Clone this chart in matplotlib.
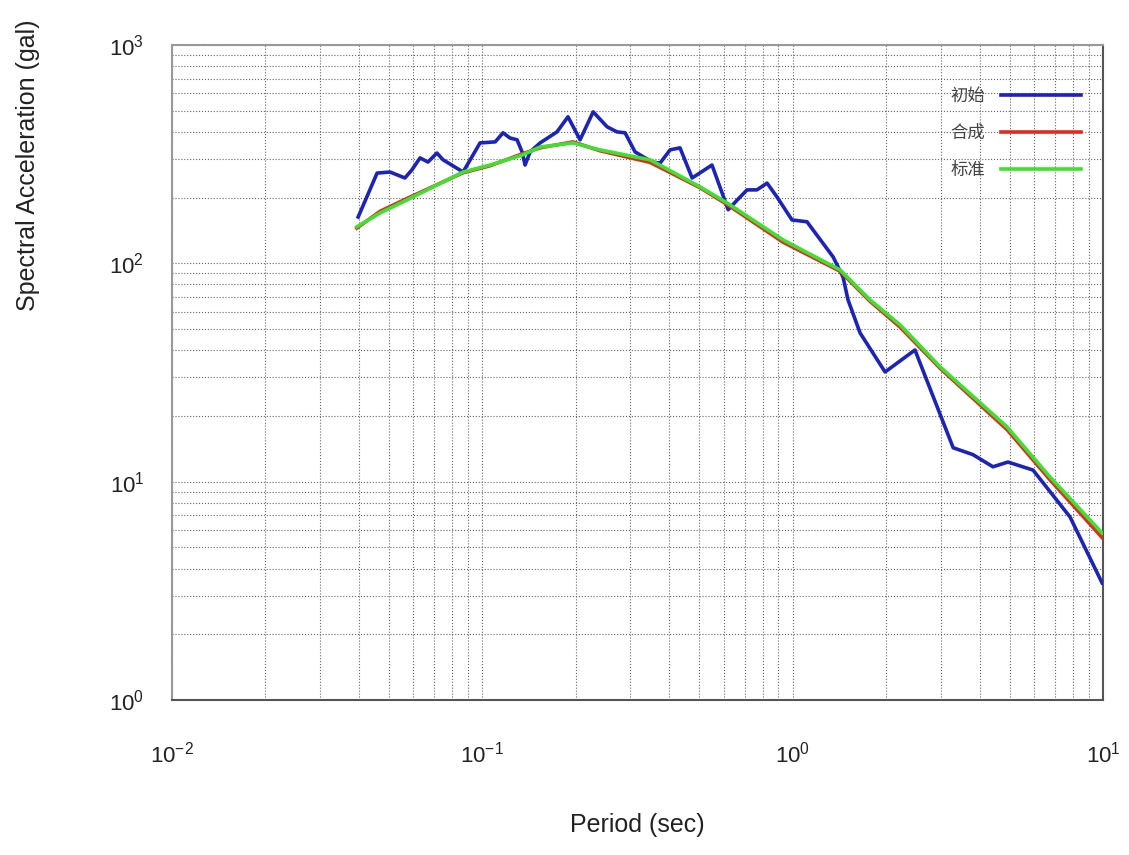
import numpy as np
import matplotlib
matplotlib.use('Agg')
import matplotlib.pyplot as plt
from matplotlib.ticker import LogLocator, FuncFormatter, NullFormatter

plt.rcParams['font.family'] = ['Liberation Sans', 'Noto Sans CJK SC', 'DejaVu Sans']
plt.rcParams['mathtext.fontset'] = 'custom'
plt.rcParams['mathtext.rm'] = 'Liberation Sans'
plt.rcParams['mathtext.it'] = 'Liberation Sans:italic'

# 初始 (initial record) spectrum
period_initial = [0.0398, 0.0458, 0.0504, 0.0563, 0.0593, 0.0630, 0.0668, 0.0714, 0.0747,
                  0.0867, 0.0983, 0.110, 0.1166, 0.1228, 0.1294, 0.1343, 0.1373, 0.1426,
                  0.1535, 0.174, 0.1888, 0.2065, 0.2276, 0.2524, 0.2716, 0.2884, 0.3105,
                  0.3524, 0.374, 0.4029, 0.4335, 0.4743, 0.5496, 0.6197, 0.6627, 0.713,
                  0.767, 0.827, 0.891, 0.995, 1.112, 1.350, 1.453, 1.508, 1.649, 1.985,
                  2.478, 3.29, 3.81, 4.42, 4.94, 5.95, 7.83, 9.93]
sa_initial = [163, 259, 262, 246, 268, 304, 291, 320, 298,
              262, 356, 360, 396, 375, 368, 324, 282, 324,
              356, 400, 469, 368, 494, 422, 400, 396, 324,
              291, 288, 331, 338, 246, 282, 176, 195, 217,
              217, 233, 201, 158, 155, 107, 86.6, 68, 48.0, 31.8,
              40.1, 14.3, 13.3, 11.7, 12.3, 11.3, 6.89, 3.44]

# 合成 (synthetic) and 标准 (target) spectra
period_target = [0.0394, 0.0468, 0.0571, 0.0867, 0.106, 0.135, 0.1535, 0.196, 0.239, 0.347,
                 0.503, 0.615, 0.931, 1.422, 1.776, 2.22, 2.99, 4.91, 6.75, 9.93]
sa_synthetic = [145, 173, 198, 260, 280, 318, 338, 360, 328, 290,
                222, 186, 125, 92, 67, 51, 33, 17.3, 10.2, 5.55]
sa_standard = [147, 170, 195, 262, 282, 314, 341, 356, 331, 298,
               224, 189, 128, 93.3, 68, 52.2, 33.5, 17.8, 10.5, 5.82]

labels = ['初始', '合成', '标准']

fig = plt.figure(figsize=(11.29, 8.55), dpi=100)
ax = fig.add_axes([172 / 1129, 1 - 700 / 855, (1103 - 172) / 1129, (700 - 45) / 855])

ax.plot(period_initial, sa_initial, color='#1c24b8', lw=2.6, label=labels[0], zorder=3)
ax.plot(period_target, sa_synthetic, color='#e02a20', lw=2.6, label=labels[1], zorder=3)
ax.plot(period_target, sa_standard, color='#3fe030', lw=2.6, label=labels[2], zorder=4)

ax.set_xscale('log')
ax.set_yscale('log')
ax.set_xlim(1e-2, 1e1)
ax.set_ylim(1e0, 1e3)

for axis in (ax.xaxis, ax.yaxis):
    axis.set_major_locator(LogLocator(base=10, numticks=10))
    axis.set_minor_locator(LogLocator(base=10, subs=np.arange(2, 10), numticks=10))
    axis.set_minor_formatter(NullFormatter())
    axis.set_major_formatter(FuncFormatter(lambda v, p: r'$10^{%d}$' % round(np.log10(v))))

ax.grid(True, which='both', linestyle=':', color='#666666', lw=0.8)
ax.tick_params(which='both', length=0)
ax.tick_params(axis='x', pad=30, labelsize=16, labelcolor='#222222')
ax.tick_params(axis='y', pad=20, labelsize=16, labelcolor='#222222')

for side in ['top', 'left']:
    ax.spines[side].set_color('#999999')
for side in ['bottom', 'right']:
    ax.spines[side].set_color('#555555')
for s in ax.spines.values():
    s.set_linewidth(1.5)

leg = ax.legend(loc='upper right', bbox_to_anchor=(0.993, 0.96), frameon=False,
                markerfirst=False, handlelength=4.6, labelspacing=1.1, handletextpad=0.9,
                prop={'family': ['Noto Sans CJK SC', 'DejaVu Sans'], 'size': 12.5})
for t in leg.get_texts():
    t.set_color('#444444')

fig.text(28 / 1129, 1 - 165 / 855, 'Spectral Acceleration (gal)', rotation=90,
         ha='center', va='center', fontsize=18, color='#222222')
fig.text(637 / 1129, 1 - 825 / 855, 'Period (sec)', ha='center', va='center',
         fontsize=18, color='#222222')

fig.savefig('out.png', dpi=100)
